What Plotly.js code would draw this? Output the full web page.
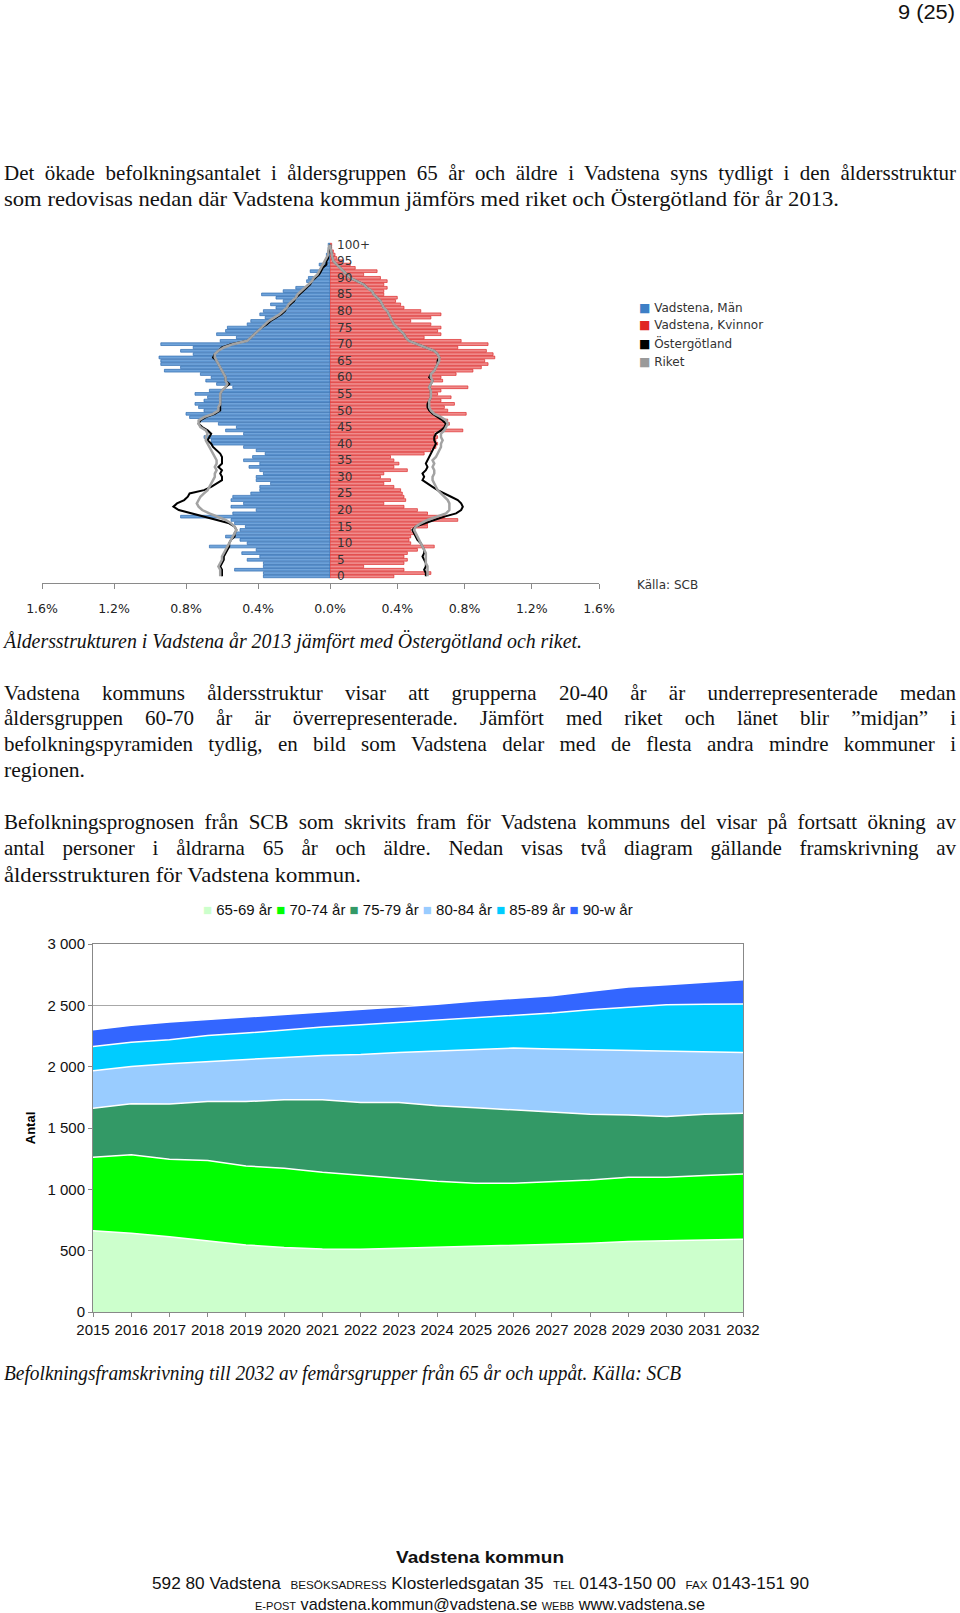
<!DOCTYPE html>
<html><head><meta charset="utf-8">
<script src="https://cdn.plot.ly/plotly-3.0.1.min.js"></script>
<style>
html,body{margin:0;padding:0;background:#fff;}
body{position:relative;width:960px;height:1613px;overflow:hidden;}
.ln{position:absolute;white-space:nowrap;font-family:'Liberation Serif','Times New Roman',serif;font-size:21px;line-height:26px;height:26px;color:#111;}
.ln span,.ft span{display:inline-block;transform-origin:0 50%;}
.it{font-style:italic;}
.ft{position:absolute;white-space:nowrap;font-family:'Liberation Sans',Arial,sans-serif;color:#111;line-height:22px;height:22px;}
.ft small{font-size:0.68em;}
#pyr{position:absolute;left:0;top:220px;width:960px;height:400px;}
#area{position:absolute;left:0;top:890px;width:960px;height:470px;}
</style></head><body>
<div id="pyr"></div>
<div id="area"></div>
<script>
// ---------- Pyramid data (share of population, %) ----------
const ages = [0,1,2,3,4,5,6,7,8,9,10,11,12,13,14,15,16,17,18,19,20,21,22,23,24,25,26,27,28,29,30,31,32,33,34,35,36,37,38,39,40,41,42,43,44,45,46,47,48,49,50,51,52,53,54,55,56,57,58,59,60,61,62,63,64,65,66,67,68,69,70,71,72,73,74,75,76,77,78,79,80,81,82,83,84,85,86,87,88,89,90,91,92,93,94,95,96,97,98,99,100];
const ageTickVals = [0,5,10,15,20,25,30,35,40,45,50,55,60,65,70,75,80,85,90,95,100];
const ageTickText = ['0','5','10','15','20','25','30','35','40','45','50','55','60','65','70','75','80','85','90','95','100+'];
const pctTickVals = [0,0.4,0.8,1.2,1.6];
const pctTickText = ['0.0%','0.4%','0.8%','1.2%','1.6%'];

const menVadstena = [0.37,0.37,0.53,0.37,0.37,0.46,0.39,0.49,0.41,0.67,
 0.46,0.50,0.58,0.52,0.50,0.47,0.53,0.55,0.83,0.54,
 0.41,0.55,0.48,0.55,0.54,0.44,0.39,0.39,0.33,0.41,
 0.41,0.37,0.39,0.45,0.39,0.48,0.43,0.36,0.41,0.48,
 0.66,0.66,0.70,0.48,0.58,0.52,0.62,0.72,0.78,0.80,
 0.70,0.73,0.75,0.70,0.68,0.75,0.67,0.54,0.63,0.69,
 0.66,0.72,0.92,0.83,0.94,0.94,0.95,0.76,0.83,0.76,
 0.94,0.61,0.52,0.63,0.58,0.57,0.46,0.44,0.36,0.39,
 0.37,0.30,0.33,0.26,0.30,0.38,0.26,0.19,0.11,0.13,
 0.12,0.07,0.11,0.05,0.06,0.03,0.02,0.02,0.01,0.01,
 0.01];
const womenVadstena = [0.38,0.60,0.44,0.20,0.44,0.46,0.44,0.46,0.52,0.62,
 0.48,0.47,0.48,0.50,0.48,0.58,0.58,0.76,0.68,0.58,
 0.52,0.44,0.32,0.45,0.44,0.43,0.42,0.38,0.32,0.36,
 0.30,0.32,0.46,0.38,0.41,0.38,0.36,0.56,0.60,0.63,
 0.64,0.63,0.64,0.62,0.79,0.68,0.71,0.70,0.66,0.81,
 0.70,0.68,0.74,0.66,0.72,0.64,0.66,0.82,0.60,0.67,
 0.66,0.75,0.85,0.90,0.94,0.92,0.98,0.97,0.93,0.76,
 0.94,0.78,0.56,0.66,0.64,0.66,0.60,0.48,0.60,0.66,
 0.54,0.44,0.42,0.39,0.40,0.32,0.32,0.34,0.32,0.34,
 0.30,0.20,0.28,0.15,0.12,0.07,0.04,0.03,0.02,0.01,
 0.01];
const menOstergotland = [0.60,0.60,0.60,0.61,0.60,0.59,0.59,0.58,0.57,0.56,
 0.56,0.55,0.53,0.53,0.52,0.53,0.56,0.63,0.70,0.78,
 0.84,0.87,0.85,0.81,0.79,0.78,0.70,0.66,0.63,0.60,
 0.60,0.61,0.60,0.62,0.60,0.60,0.60,0.61,0.63,0.65,
 0.66,0.68,0.67,0.66,0.68,0.71,0.73,0.72,0.69,0.64,
 0.61,0.61,0.61,0.61,0.61,0.61,0.60,0.58,0.56,0.58,
 0.58,0.59,0.60,0.61,0.62,0.63,0.65,0.64,0.62,0.60,
 0.55,0.46,0.44,0.42,0.40,0.38,0.35,0.33,0.30,0.27,
 0.25,0.24,0.22,0.20,0.19,0.17,0.15,0.13,0.11,0.10,
 0.08,0.06,0.05,0.04,0.02,0.02,0.01,0.01,0.005,0.003,
 0.001];
const menRiket = [0.61,0.61,0.61,0.62,0.61,0.60,0.60,0.59,0.58,0.57,
 0.56,0.55,0.54,0.53,0.52,0.53,0.55,0.58,0.63,0.67,
 0.71,0.73,0.74,0.73,0.72,0.70,0.68,0.67,0.66,0.65,
 0.64,0.64,0.63,0.64,0.63,0.63,0.64,0.65,0.66,0.67,
 0.68,0.69,0.69,0.68,0.69,0.72,0.73,0.73,0.70,0.65,
 0.62,0.62,0.61,0.61,0.61,0.61,0.60,0.58,0.57,0.58,
 0.58,0.59,0.60,0.61,0.62,0.63,0.64,0.64,0.62,0.59,
 0.54,0.46,0.44,0.42,0.40,0.38,0.36,0.34,0.31,0.28,
 0.26,0.24,0.23,0.21,0.19,0.18,0.16,0.14,0.12,0.10,
 0.09,0.07,0.06,0.05,0.04,0.03,0.02,0.01,0.01,0.005,
 0.003];
const womenOstergotland = [0.57,0.57,0.56,0.57,0.57,0.56,0.55,0.56,0.56,0.55,
 0.54,0.52,0.51,0.50,0.49,0.51,0.56,0.62,0.68,0.75,
 0.78,0.79,0.78,0.76,0.72,0.68,0.64,0.61,0.58,0.55,
 0.56,0.55,0.57,0.58,0.57,0.58,0.59,0.60,0.61,0.62,
 0.63,0.62,0.62,0.63,0.66,0.68,0.69,0.67,0.64,0.61,
 0.59,0.58,0.58,0.59,0.60,0.60,0.60,0.59,0.60,0.61,
 0.59,0.60,0.62,0.63,0.64,0.64,0.65,0.64,0.62,0.57,
 0.52,0.47,0.45,0.44,0.42,0.40,0.38,0.37,0.36,0.35,
 0.34,0.32,0.31,0.30,0.28,0.26,0.25,0.22,0.20,0.16,
 0.12,0.10,0.08,0.06,0.04,0.02,0.015,0.01,0.006,0.003,
 0.002];
const womenRiket = [0.58,0.58,0.58,0.58,0.57,0.57,0.57,0.57,0.56,0.55,
 0.54,0.53,0.52,0.51,0.50,0.51,0.54,0.58,0.64,0.69,
 0.71,0.71,0.71,0.70,0.68,0.66,0.64,0.63,0.62,0.61,
 0.61,0.62,0.62,0.61,0.62,0.61,0.63,0.64,0.65,0.66,
 0.66,0.67,0.66,0.66,0.68,0.69,0.70,0.69,0.66,0.62,
 0.60,0.59,0.59,0.59,0.60,0.60,0.60,0.59,0.60,0.61,
 0.60,0.60,0.62,0.63,0.64,0.65,0.65,0.64,0.62,0.57,
 0.52,0.47,0.45,0.44,0.42,0.40,0.38,0.37,0.36,0.35,
 0.34,0.32,0.31,0.30,0.28,0.26,0.25,0.22,0.20,0.16,
 0.12,0.10,0.08,0.06,0.04,0.02,0.015,0.01,0.006,0.003,
 0.002];
const pyrLegendNames = ['Vadstena, Män','Vadstena, Kvinnor','Östergötland','Riket'];

// ---------- Projection data (persons) ----------
const years = [2015,2016,2017,2018,2019,2020,2021,2022,2023,2024,2025,2026,2027,2028,2029,2030,2031,2032];
const groupNames = ['65-69 år','70-74 år','75-79 år','80-84 år','85-89 år','90-w år'];
const age65_69 = [663,642,614,582,547,525,514,512,520,525,532,541,547,560,574,579,588,593];
const age70_74 = [599,639,632,653,644,647,626,606,571,541,518,509,514,517,525,520,524,533];
const age75_79 = [400,416,449,481,525,558,590,590,617,615,615,598,565,536,506,495,501,495];
const age80_84 = [305,305,329,327,340,345,362,392,408,446,476,504,518,525,527,536,511,495];
const age85_89 = [198,198,196,212,218,226,231,242,245,250,254,263,293,326,354,375,384,395];
const age90w   = [136,137,144,130,131,125,120,122,125,131,140,145,142,150,163,163,182,198];
const areaYTicks = [0,500,1000,1500,2000,2500,3000];

// ---------- styles ----------
const pyrColors = ['#3D7FC6','#E02424','#000000','#9A9A9A'];
const areaColors = ['#CCFFCC','#00FF00','#339966','#99CCFF','#00CCFF','#3366FF'];
const tah = 'Tahoma, "DejaVu Sans", Verdana, sans-serif';
const ari = '"Liberation Sans", Arial, Helvetica, sans-serif';

// ---------- Pyramid ----------
const split = 288/557;
const pyrTraces = [
  {type:'bar', orientation:'h', y:ages, x:menVadstena, xaxis:'x', yaxis:'y',
   marker:{color:'#6FA3DA', line:{color:'#2E6BB0', width:0.7}}, showlegend:false},
  {type:'bar', orientation:'h', y:ages, x:womenVadstena, xaxis:'x2', yaxis:'y',
   marker:{color:'#F08C8C', line:{color:'#DD2B2B', width:0.7}}, showlegend:false},
  {type:'scatter', mode:'lines', y:ages, x:menOstergotland, xaxis:'x', yaxis:'y',
   line:{color:'#000', width:2}, showlegend:false},
  {type:'scatter', mode:'lines', y:ages, x:womenOstergotland, xaxis:'x2', yaxis:'y',
   line:{color:'#000', width:2}, showlegend:false},
  {type:'scatter', mode:'lines', y:ages, x:menRiket, xaxis:'x', yaxis:'y',
   line:{color:'#A3A3A3', width:2.5}, showlegend:false},
  {type:'scatter', mode:'lines', y:ages, x:womenRiket, xaxis:'x2', yaxis:'y',
   line:{color:'#A3A3A3', width:2.5}, showlegend:false}
];
const pxAxis = {showline:true, linecolor:'#8a8a8a', linewidth:1, ticks:'outside', ticklen:5,
  tickcolor:'#8a8a8a', showgrid:false, zeroline:false, fixedrange:true,
  tickfont:{family:tah, size:12.5, color:'#222'}, ticklabelstandoff:9};
const legY = [0.802,0.753,0.700,0.645];
const pyrAnn = pyrLegendNames.map((n,i)=>({xref:'paper', yref:'paper', x:1.068, y:legY[i],
  xanchor:'left', yanchor:'middle', showarrow:false,
  text:'<span style="color:'+pyrColors[i]+'">■</span> '+n,
  font:{family:tah, size:12, color:'#333'}}));
pyrAnn.push({xref:'paper', yref:'paper', x:1.064, y:-0.005, xanchor:'left', yanchor:'middle',
  showarrow:false, text:'Källa: SCB', font:{family:tah, size:12, color:'#333'}});
// age labels drawn above the bars, right of the zero line
ageTickVals.forEach((a,i)=>pyrAnn.push({xref:'x2', yref:'y', x:0, y:a, xanchor:'left', yanchor:'middle',
  xshift:5, showarrow:false, text:ageTickText[i], font:{family:tah, size:12, color:'#333'}}));

Plotly.newPlot('pyr', pyrTraces, {
  width:960, height:400, margin:{l:42, r:361, t:20, b:37},
  paper_bgcolor:'#fff', plot_bgcolor:'#fff', bargap:0.18,
  xaxis:Object.assign({}, pxAxis, {domain:[0,split], range:[1.6,0], tickvals:pctTickVals, ticktext:pctTickText, anchor:'y'}),
  xaxis2:Object.assign({}, pxAxis, {domain:[split,1], range:[0,1.6], tickvals:pctTickVals.slice(1), ticktext:pctTickText.slice(1), anchor:'y'}),
  yaxis:{range:[-2,101.4], anchor:'free', position:split, side:'right', tickvals:ageTickVals,
    showticklabels:false, ticks:'', showline:false, showgrid:false, zeroline:false, fixedrange:true},
  annotations:pyrAnn, showlegend:false
}, {staticPlot:true, displayModeBar:false});

// ---------- Area chart ----------
const groups = [age65_69, age70_74, age75_79, age80_84, age85_89, age90w];
const areaTraces = groups.map((g,i)=>({
  type:'scatter', mode:'lines', x:years, y:g, stackgroup:'one', name:groupNames[i],
  line:{color:'#ffffff', width:1.5}, fillcolor:areaColors[i], showlegend:false
}));
const legendText = groupNames.map((n,i)=>'<span style="color:'+areaColors[i]+'">■</span> '+n).join(' ');
Plotly.newPlot('area', areaTraces, {
  width:960, height:470, margin:{l:93, r:217, t:54, b:48},
  paper_bgcolor:'#fff', plot_bgcolor:'#fff', separators:', ',
  font:{family:ari, size:15, color:'#000'},
  xaxis:{range:[2015,2032], tickvals:years, ticktext:years.map(String), ticks:'outside', ticklen:4, tickcolor:'#888',
    showline:true, linecolor:'#888', mirror:true, showgrid:false, zeroline:false,
    tickfont:{family:ari, size:15, color:'#111'}},
  yaxis:{range:[0,3000], tickvals:areaYTicks, tickformat:',d', ticks:'outside', ticklen:4, tickcolor:'#888',
    showline:true, linecolor:'#888', mirror:true, gridcolor:'#A8A8A8', zeroline:false,
    tickfont:{family:ari, size:15, color:'#111'},
    title:{text:'<b>Antal</b>', font:{family:ari, size:13, color:'#000'}, standoff:8}},
  annotations:[{xref:'paper', yref:'paper', x:0.5, y:1.093, xanchor:'center', yanchor:'middle', showarrow:false,
    text:legendText, font:{family:ari, size:15, color:'#111'}}],
  showlegend:false
}, {staticPlot:true, displayModeBar:false});

// ---------- Page text ----------
function put(o){
  const d=document.createElement('div');
  d.className=o.cls||'ln';
  d.style.left=o.x+'px';
  d.style.top=(o.y-(o.off===undefined?15:o.off))+'px';
  if(o.size) d.style.fontSize=o.size+'px';
  if(o.bold) d.style.fontWeight='bold';
  const s=document.createElement('span'); s.innerHTML=o.t; d.appendChild(s);
  document.body.appendChild(d);
  const nat=s.getBoundingClientRect().width;
  if(o.j){
    const n=(s.textContent.match(/ /g)||[]).length;
    const extra=(o.w-nat)/n;
    if(extra>=0) s.style.wordSpacing=extra+'px';
    else s.style.transform='scaleX('+(o.w/nat)+')';
  } else if(o.w){
    s.style.transform='scaleX('+(o.w/nat)+')';
  }
}
const L=4;
[
 {t:'Det ökade befolkningsantalet i åldersgruppen 65 år och äldre i Vadstena syns tydligt i den åldersstruktur', x:L, y:175, w:952, j:1},
 {t:'som redovisas nedan där Vadstena kommun jämförs med riket och Östergötland för år 2013.', x:L, y:200.6, w:835},
 {t:'Åldersstrukturen i Vadstena år 2013 jämfört med Östergötland och riket.', x:L, y:643, w:578, cls:'ln it'},
 {t:'Vadstena kommuns åldersstruktur visar att grupperna 20-40 år är underrepresenterade medan', x:L, y:694.6, w:952, j:1},
 {t:'åldersgruppen 60-70 år är överrepresenterade. Jämfört med riket och länet blir ”midjan” i', x:L, y:720.3, w:952, j:1},
 {t:'befolkningspyramiden tydlig, en bild som Vadstena delar med de flesta andra mindre kommuner i', x:L, y:746, w:952, j:1},
 {t:'regionen.', x:L, y:771.8, w:81},
 {t:'Befolkningsprognosen från SCB som skrivits fram för Vadstena kommuns del visar på fortsatt ökning av', x:L, y:824.2, w:952, j:1},
 {t:'antal personer i åldrarna 65 år och äldre. Nedan visas två diagram gällande framskrivning av', x:L, y:850, w:952, j:1},
 {t:'åldersstrukturen för Vadstena kommun.', x:L, y:876.7, w:357},
 {t:'Befolkningsframskrivning till 2032 av femårsgrupper från 65 år och uppåt. Källa: SCB', x:L, y:1374.7, w:677, cls:'ln it'},
 {t:'9 (25)', x:898, y:12.3, w:57, cls:'ft', size:20, off:11},
 {t:'Vadstena kommun', x:396, y:1558, w:168, cls:'ft', size:17, bold:1, off:11},
 {t:'592 80 Vadstena &nbsp;<small>BESÖKSADRESS</small> Klosterledsgatan 35 &nbsp;<small>TEL</small> 0143-150 00 &nbsp;<small>FAX</small> 0143-151 90', x:152, y:1583.7, w:657, cls:'ft', size:17, off:11},
 {t:'<small>E-POST</small> vadstena.kommun@vadstena.se <small>WEBB</small> www.vadstena.se', x:255, y:1605.3, w:450, cls:'ft', size:17, off:11}
].forEach(put);
</script>
</body></html>
